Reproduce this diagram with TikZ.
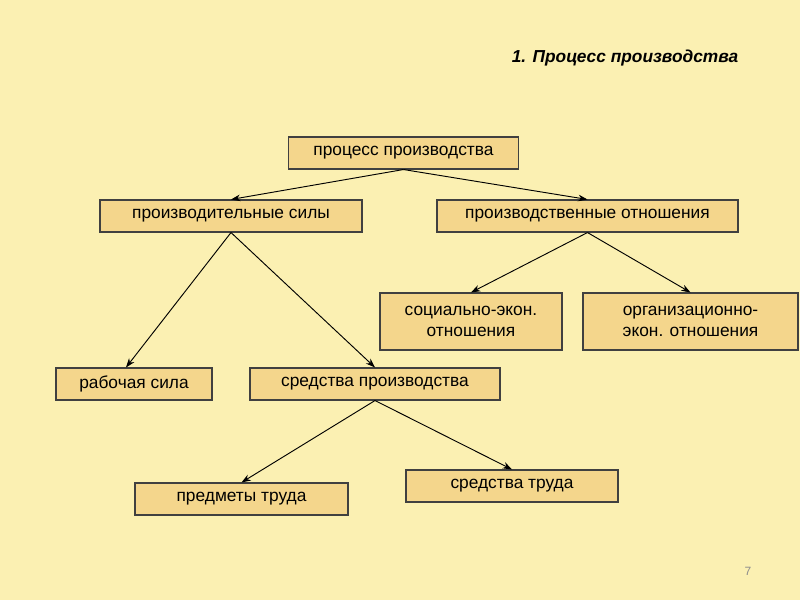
\documentclass[tikz,border=0pt]{standalone}
\usepackage{fontspec}
\setmainfont{Liberation Sans}
\usetikzlibrary{arrows.meta}
\definecolor{bg}{RGB}{251,240,178}
\definecolor{boxfill}{RGB}{244,214,140}
\tikzset{
  box/.style={draw=black!75, fill=boxfill, line width=0.8pt, inner sep=0pt, align=center, font=\fontsize{13}{15.5}\selectfont},
  conn/.style={-{Stealth[length=7pt,width=5pt]}, line width=0.7pt}
}
\begin{document}
\begin{tikzpicture}[x=0.75pt,y=-0.75pt]
\fill[bg] (0,0) rectangle (800,600);
\useasboundingbox (0,0) rectangle (800,600);
\node[font=\bfseries\itshape\fontsize{13}{15}\selectfont] (title) at (625,58) {1. Процесс производства};
\node[font=\fontsize{9}{11}\selectfont, text=black!45] (pg) at (748,571) {7};
\node[box, minimum width=173pt, minimum height=24pt] (a) at (403.5,153) {процесс производства};
\node[box, minimum width=196.5pt, minimum height=24pt] (b) at (231,216) {производительные силы};
\node[box, minimum width=225.75pt, minimum height=24pt] (c) at (587.5,216) {производственные отношения};
\node[box, minimum width=136.5pt, minimum height=42.75pt] (d) at (471,321.5) {социально-экон.\\отношения};
\node[box, minimum width=161.25pt, minimum height=42.75pt] (e) at (690.5,321.5) {организационно-\\экон. отношения};
\node[box, minimum width=117pt, minimum height=24pt] (f) at (134,384) {рабочая сила};
\node[box, minimum width=187.5pt, minimum height=24pt] (g) at (375,384) {средства производства};
\node[box, minimum width=159.75pt, minimum height=24pt] (h) at (241.5,499) {предметы труда};
\node[box, minimum width=159pt, minimum height=24pt] (i) at (512,486) {средства труда};
\draw[conn] (a.south) -- (b.north);
\draw[conn] (a.south) -- (c.north);
\draw[conn] (b.south) -- ([xshift=-6pt]f.north);
\draw[conn] (b.south) -- (g.north);
\draw[conn] (c.south) -- (d.north);
\draw[conn] (c.south) -- (e.north);
\draw[conn] (g.south) -- (h.north);
\draw[conn] (g.south) -- (i.north);
\end{tikzpicture}
\end{document}
